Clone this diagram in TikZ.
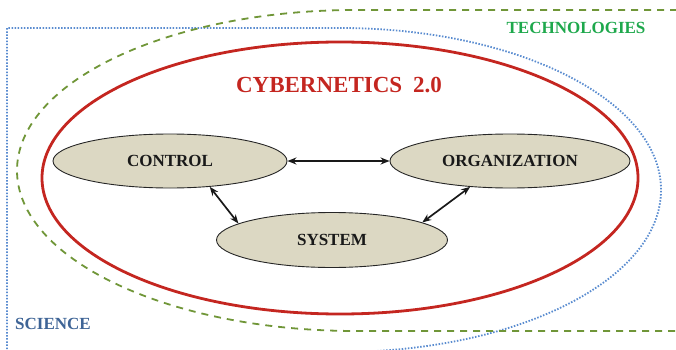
\documentclass[tikz,border=0pt]{standalone}
\usepackage{fontspec}
\setmainfont{Liberation Serif}
\usetikzlibrary{shapes.geometric,arrows.meta}
\definecolor{cyred}{RGB}{196,38,32}
\definecolor{techgreen}{RGB}{112,150,56}
\definecolor{techtext}{RGB}{30,168,76}
\definecolor{scidot}{RGB}{90,140,208}
\definecolor{scitext}{RGB}{62,100,150}
\definecolor{nodefill}{RGB}{220,216,195}
\tikzset{
  concept/.style={ellipse, draw=black!85, line width=0.9pt, fill=nodefill, inner sep=0pt,
    font=\fontsize{17}{20}\selectfont\bfseries, text=black!90},
  link/.style={{Stealth[length=9pt,width=7pt]}-{Stealth[length=9pt,width=7pt]}, line width=1.7pt, black!90},
  sciline/.style={scidot, line width=1.8pt, dash pattern=on 1.5pt off 1.6pt},
  techline/.style={techgreen, line width=1.8pt, dash pattern=on 7pt off 6pt},
}
\begin{document}
\begin{tikzpicture}[x=1pt,y=-1pt]
\useasboundingbox (0,0) rectangle (676,350);
\clip (0,0) rectangle (676,350);
% SCIENCE region
\draw[sciline] (7,380) -- (7,28) -- (340,28) arc[start angle=-90, end angle=90, x radius=321, y radius=162];
% TECHNOLOGIES region
\draw[techline] (690,10) -- (356,10) arc[start angle=-90, end angle=-270, x radius=339, y radius=160.5] -- (690,331);
% Cybernetics ellipse
\draw[cyred, line width=2.8pt] (340,178) ellipse[x radius=298, y radius=136];
\node[text=cyred, font=\fontsize{23}{26}\selectfont\bfseries] (title) at (339,85) {CYBERNETICS\hspace{11pt}2.0};
\node[text=techtext, font=\fontsize{17}{20}\selectfont\bfseries] (tech) at (576,28) {TECHNOLOGIES};
\node[text=scitext, font=\fontsize{17}{20}\selectfont\bfseries] (sci) at (53,324) {SCIENCE};
\node[concept, minimum width=234pt, minimum height=54pt] (ctrl) at (170,161) {CONTROL};
\node[concept, minimum width=240pt, minimum height=54pt] (org) at (510,161) {ORGANIZATION};
\node[concept, minimum width=231pt, minimum height=55pt] (sys) at (332,240) {SYSTEM};
\draw[link] (ctrl.east) -- (org.west);
\draw[link] (ctrl.-33) -- (sys.170);
\draw[link] (sys.11) -- (org.-147);
\end{tikzpicture}
\end{document}
